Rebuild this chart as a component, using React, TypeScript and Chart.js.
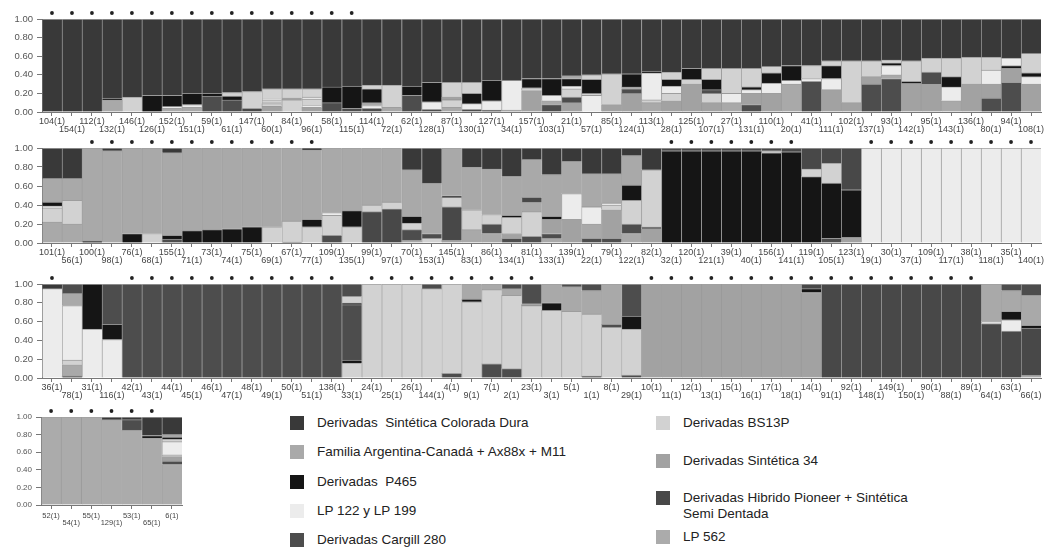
import React, { useEffect, useRef } from 'react';
import { Chart, registerables } from 'chart.js';
Chart.register(...registerables);

// Cluster keys -> legend names and grey tones
const clusterKeys = ['A', 'F', 'P', 'L', 'C', 'B', 'S', 'H', 'M'];
const clusterNames = [
  'Derivadas  Sintética Colorada Dura',
  'Familia Argentina-Canadá + Ax88x + M11',
  'Derivadas  P465',
  'LP 122 y LP 199',
  'Derivadas Cargill 280',
  'Derivadas BS13P',
  'Derivadas Sintética 34',
  'Derivadas Hibrido Pioneer + Sintética\nSemi Dentada',
  'LP 562',
];
const clusterColors = ['#393939', '#a9a9a9', '#151515', '#ececec', '#4d4d4d', '#d2d2d2', '#a2a2a2', '#484848', '#ababab'];

type Seg = [string, number];

// ---------------- Panel 1 ----------------
const panel1Labels = ['104(1)', '154(1)', '112(1)', '132(1)', '146(1)', '126(1)', '152(1)', '151(1)', '59(1)', '61(1)',
  '147(1)', '60(1)', '84(1)', '96(1)', '58(1)', '115(1)', '114(1)', '72(1)', '62(1)', '128(1)',
  '87(1)', '130(1)', '127(1)', '34(1)', '157(1)', '103(1)', '21(1)', '57(1)', '85(1)', '124(1)',
  '113(1)', '28(1)', '125(1)', '107(1)', '27(1)', '131(1)', '110(1)', '20(1)', '41(1)', '111(1)',
  '102(1)', '137(1)', '93(1)', '142(1)', '95(1)', '143(1)', '136(1)', '80(1)', '94(1)', '108(1)'];
const panel1Stars = [1, 1, 1, 1, 1, 1, 1, 1, 1, 1, 1, 1, 1, 1, 1, 1, 0, 0, 0, 0, 0, 0, 0, 0, 0, 0, 0, 0, 0, 0,
  0, 0, 0, 0, 0, 0, 0, 0, 0, 0, 0, 0, 0, 0, 0, 0, 0, 0, 0, 0];
const panel1Bars: Seg[][] = [
  [['A', 1]],
  [['A', 1]],
  [['A', 1]],
  [['F', 0.13], ['P', 0.02], ['A', 0.85]],
  [['B', 0.16], ['A', 0.84]],
  [['P', 0.18], ['A', 0.82]],
  [['F', 0.04], ['L', 0.02], ['P', 0.12], ['A', 0.82]],
  [['F', 0.05], ['L', 0.03], ['P', 0.12], ['A', 0.8]],
  [['C', 0.17], ['P', 0.03], ['A', 0.8]],
  [['C', 0.13], ['P', 0.04], ['B', 0.04], ['A', 0.79]],
  [['H', 0.04], ['B', 0.18], ['A', 0.78]],
  [['S', 0.06], ['B', 0.03], ['L', 0.01], ['B', 0.03], ['L', 0.01], ['B', 0.11], ['A', 0.75]],
  [['B', 0.13], ['F', 0.02], ['B', 0.1], ['A', 0.75]],
  [['S', 0.05], ['L', 0.02], ['B', 0.07], ['L', 0.02], ['B', 0.09], ['A', 0.75]],
  [['C', 0.1], ['P', 0.17], ['A', 0.73]],
  [['C', 0.04], ['P', 0.24], ['A', 0.72]],
  [['C', 0.04], ['L', 0.03], ['F', 0.03], ['P', 0.15], ['B', 0.04], ['A', 0.71]],
  [['F', 0.05], ['B', 0.24], ['A', 0.71]],
  [['C', 0.18], ['P', 0.1], ['A', 0.72]],
  [['C', 0.03], ['L', 0.08], ['P', 0.21], ['A', 0.68]],
  [['F', 0.05], ['B', 0.08], ['S', 0.03], ['B', 0.16], ['A', 0.68]],
  [['C', 0.03], ['L', 0.06], ['P', 0.11], ['B', 0.12], ['A', 0.68]],
  [['C', 0.02], ['L', 0.1], ['P', 0.22], ['A', 0.66]],
  [['F', 0.02], ['L', 0.32], ['A', 0.66]],
  [['S', 0.23], ['B', 0.03], ['P', 0.1], ['A', 0.64]],
  [['C', 0.08], ['F', 0.04], ['L', 0.06], ['P', 0.18], ['A', 0.64]],
  [['S', 0.1], ['C', 0.06], ['B', 0.09], ['L', 0.03], ['P', 0.08], ['F', 0.03], ['A', 0.61]],
  [['L', 0.18], ['B', 0.02], ['P', 0.15], ['B', 0.05], ['A', 0.6]],
  [['S', 0.08], ['B', 0.33], ['A', 0.59]],
  [['S', 0.2], ['C', 0.05], ['F', 0.02], ['P', 0.14], ['A', 0.59]],
  [['F', 0.1], ['B', 0.03], ['L', 0.29], ['P', 0.02], ['A', 0.56]],
  [['S', 0.12], ['B', 0.08], ['L', 0.08], ['P', 0.07], ['B', 0.08], ['A', 0.57]],
  [['S', 0.3], ['B', 0.05], ['P', 0.12], ['A', 0.53]],
  [['S', 0.1], ['B', 0.1], ['C', 0.04], ['P', 0.11], ['B', 0.12], ['A', 0.53]],
  [['F', 0.1], ['L', 0.1], ['B', 0.27], ['A', 0.53]],
  [['C', 0.08], ['S', 0.12], ['L', 0.04], ['P', 0.03], ['B', 0.2], ['A', 0.53]],
  [['S', 0.2], ['L', 0.11], ['P', 0.11], ['B', 0.07], ['A', 0.51]],
  [['F', 0.3], ['L', 0.04], ['P', 0.16], ['A', 0.5]],
  [['C', 0.33], ['L', 0.03], ['B', 0.14], ['A', 0.5]],
  [['S', 0.24], ['L', 0.12], ['P', 0.14], ['B', 0.05], ['A', 0.45]],
  [['S', 0.1], ['B', 0.45], ['A', 0.45]],
  [['C', 0.3], ['S', 0.08], ['B', 0.17], ['A', 0.45]],
  [['C', 0.36], ['F', 0.04], ['L', 0.1], ['P', 0.03], ['B', 0.03], ['A', 0.44]],
  [['S', 0.31], ['P', 0.02], ['B', 0.22], ['A', 0.45]],
  [['S', 0.3], ['C', 0.13], ['B', 0.15], ['A', 0.42]],
  [['F', 0.12], ['L', 0.15], ['P', 0.11], ['B', 0.2], ['A', 0.42]],
  [['S', 0.3], ['B', 0.29], ['A', 0.41]],
  [['C', 0.15], ['S', 0.15], ['L', 0.15], ['B', 0.14], ['A', 0.41]],
  [['C', 0.32], ['S', 0.15], ['P', 0.03], ['L', 0.08], ['A', 0.42]],
  [['S', 0.3], ['L', 0.08], ['P', 0.04], ['B', 0.21], ['A', 0.37]],
];

// ---------------- Panel 2 ----------------
const panel2Labels = ['101(1)', '56(1)', '100(1)', '98(1)', '76(1)', '68(1)', '155(1)', '71(1)', '73(1)', '74(1)',
  '75(1)', '69(1)', '67(1)', '77(1)', '109(1)', '135(1)', '99(1)', '97(1)', '70(1)', '153(1)',
  '145(1)', '83(1)', '86(1)', '134(1)', '81(1)', '133(1)', '139(1)', '22(1)', '79(1)', '122(1)',
  '82(1)', '32(1)', '120(1)', '121(1)', '39(1)', '40(1)', '156(1)', '141(1)', '119(1)', '105(1)',
  '123(1)', '19(1)', '30(1)', '37(1)', '109(1)', '117(1)', '38(1)', '118(1)', '35(1)', '140(1)'];
const panel2Stars = [0, 0, 1, 1, 1, 1, 1, 1, 1, 1, 1, 1, 1, 1, 0, 0, 0, 0, 0, 0, 0, 0, 0, 0, 0, 0, 0, 0, 0, 0,
  0, 1, 1, 1, 1, 1, 1, 1, 0, 0, 0, 1, 1, 1, 1, 1, 1, 1, 1, 1];
const panel2Bars: Seg[][] = [
  [['F', 0.22], ['B', 0.15], ['L', 0.02], ['P', 0.04], ['F', 0.25], ['A', 0.32]],
  [['F', 0.2], ['B', 0.25], ['F', 0.23], ['A', 0.32]],
  [['P', 0.02], ['F', 0.98]],
  [['F', 0.97], ['A', 0.03]],
  [['P', 0.1], ['F', 0.9]],
  [['B', 0.1], ['F', 0.9]],
  [['C', 0.04], ['P', 0.04], ['F', 0.87], ['A', 0.05]],
  [['P', 0.13], ['F', 0.87]],
  [['P', 0.14], ['F', 0.86]],
  [['P', 0.15], ['F', 0.85]],
  [['P', 0.17], ['F', 0.83]],
  [['B', 0.17], ['F', 0.83]],
  [['C', 0.01], ['B', 0.22], ['F', 0.77]],
  [['B', 0.17], ['P', 0.08], ['F', 0.73], ['A', 0.02]],
  [['C', 0.08], ['B', 0.21], ['L', 0.03], ['F', 0.68]],
  [['B', 0.17], ['P', 0.17], ['F', 0.66]],
  [['H', 0.33], ['B', 0.07], ['F', 0.6]],
  [['H', 0.36], ['B', 0.07], ['F', 0.57]],
  [['F', 0.03], ['C', 0.11], ['B', 0.07], ['P', 0.07], ['F', 0.49], ['A', 0.23]],
  [['B', 0.05], ['C', 0.05], ['F', 0.53], ['A', 0.37]],
  [['S', 0.03], ['H', 0.35], ['B', 0.1], ['C', 0.02], ['F', 0.5]],
  [['F', 0.14], ['B', 0.21], ['F', 0.45], ['A', 0.2]],
  [['F', 0.1], ['C', 0.1], ['B', 0.1], ['F', 0.48], ['A', 0.22]],
  [['C', 0.05], ['S', 0.05], ['B', 0.17], ['P', 0.02], ['F', 0.41], ['A', 0.3]],
  [['C', 0.07], ['B', 0.26], ['F', 0.1], ['H', 0.05], ['F', 0.4], ['A', 0.12]],
  [['F', 0.05], ['C', 0.05], ['S', 0.15], ['P', 0.03], ['F', 0.44], ['A', 0.28]],
  [['S', 0.25], ['L', 0.27], ['F', 0.34], ['A', 0.14]],
  [['C', 0.05], ['F', 0.15], ['L', 0.18], ['F', 0.35], ['A', 0.27]],
  [['C', 0.05], ['S', 0.3], ['B', 0.05], ['L', 0.02], ['F', 0.31], ['A', 0.27]],
  [['F', 0.1], ['C', 0.1], ['B', 0.25], ['P', 0.16], ['F', 0.31], ['A', 0.08]],
  [['S', 0.15], ['C', 0.02], ['B', 0.6], ['A', 0.23]],
  [['P', 0.97], ['H', 0.03]],
  [['P', 0.97], ['H', 0.03]],
  [['P', 0.97], ['H', 0.03]],
  [['P', 0.97], ['H', 0.03]],
  [['P', 0.97], ['H', 0.03]],
  [['P', 0.95], ['B', 0.02], ['H', 0.03]],
  [['P', 0.96], ['H', 0.04]],
  [['P', 0.7], ['B', 0.08], ['H', 0.22]],
  [['C', 0.05], ['P', 0.58], ['B', 0.21], ['H', 0.16]],
  [['S', 0.06], ['P', 0.5], ['H', 0.44]],
  [['L', 1]],
  [['L', 1]],
  [['L', 1]],
  [['L', 1]],
  [['L', 1]],
  [['L', 1]],
  [['L', 1]],
  [['L', 1]],
  [['L', 1]],
];

// ---------------- Panel 3 ----------------
const panel3Labels = ['36(1)', '78(1)', '31(1)', '116(1)', '42(1)', '43(1)', '44(1)', '45(1)', '46(1)', '47(1)',
  '48(1)', '49(1)', '50(1)', '51(1)', '138(1)', '33(1)', '24(1)', '25(1)', '26(1)', '144(1)',
  '4(1)', '9(1)', '7(1)', '2(1)', '23(1)', '3(1)', '5(1)', '1(1)', '8(1)', '29(1)',
  '10(1)', '11(1)', '12(1)', '13(1)', '15(1)', '16(1)', '17(1)', '18(1)', '14(1)', '91(1)',
  '92(1)', '148(1)', '149(1)', '150(1)', '90(1)', '88(1)', '89(1)', '64(1)', '63(1)', '66(1)'];
const panel3Stars = [1, 0, 0, 0, 1, 1, 1, 1, 1, 1, 1, 1, 1, 1, 1, 0, 1, 1, 1, 1, 1, 1, 1, 1, 1, 0, 0, 0, 0, 0,
  1, 1, 1, 1, 1, 1, 1, 1, 1, 1, 1, 1, 1, 1, 1, 1, 1, 0, 0, 0];
const panel3Bars: Seg[][] = [
  [['L', 0.95], ['A', 0.05]],
  [['C', 0.02], ['F', 0.12], ['B', 0.05], ['L', 0.58], ['F', 0.13], ['C', 0.1]],
  [['L', 0.52], ['P', 0.48]],
  [['L', 0.41], ['P', 0.16], ['C', 0.43]],
  [['C', 1]], [['C', 1]], [['C', 1]], [['C', 1]], [['C', 1]],
  [['C', 1]], [['C', 1]], [['C', 1]], [['C', 1]], [['C', 1]], [['C', 1]],
  [['B', 0.16], ['P', 0.03], ['C', 0.59], ['P', 0.02], ['B', 0.07], ['C', 0.13]],
  [['B', 1]],
  [['B', 1]],
  [['B', 1]],
  [['B', 0.95], ['C', 0.05]],
  [['C', 0.05], ['B', 0.95]],
  [['B', 0.81], ['P', 0.03], ['F', 0.16]],
  [['C', 0.15], ['B', 0.79], ['F', 0.06]],
  [['C', 0.1], ['B', 0.78], ['F', 0.07], ['C', 0.05]],
  [['B', 0.77], ['F', 0.02], ['C', 0.21]],
  [['B', 0.72], ['P', 0.08], ['F', 0.2]],
  [['B', 0.71], ['F', 0.26], ['C', 0.03]],
  [['C', 0.02], ['B', 0.66], ['F', 0.25], ['C', 0.07]],
  [['B', 0.54], ['C', 0.03], ['F', 0.43]],
  [['C', 0.03], ['B', 0.49], ['P', 0.14], ['C', 0.34]],
  [['S', 1]], [['S', 1]], [['S', 1]], [['S', 1]], [['S', 1]], [['S', 1]], [['S', 1]], [['S', 1]],
  [['S', 0.91], ['P', 0.04], ['H', 0.05]],
  [['H', 1]], [['H', 1]], [['H', 1]], [['H', 1]], [['H', 1]], [['H', 1]], [['H', 1]], [['H', 1]],
  [['H', 0.58], ['L', 0.02], ['F', 0.4]],
  [['H', 0.5], ['L', 0.12], ['P', 0.09], ['F', 0.22], ['C', 0.07]],
  [['F', 0.03], ['H', 0.5], ['P', 0.03], ['F', 0.32], ['C', 0.12]],
];

// ---------------- Panel 4 ----------------
const panel4Labels = ['52(1)', '54(1)', '55(1)', '129(1)', '53(1)', '65(1)', '6(1)'];
const panel4Stars = [1, 1, 1, 1, 1, 1, 0];
const panel4Bars: Seg[][] = [
  [['M', 1]],
  [['M', 1]],
  [['M', 1]],
  [['M', 0.97], ['A', 0.03]],
  [['M', 0.85], ['C', 0.12], ['A', 0.03]],
  [['M', 0.76], ['P', 0.03], ['A', 0.21]],
  [['M', 0.46], ['C', 0.04], ['S', 0.05], ['B', 0.02], ['L', 0.15], ['B', 0.03], ['P', 0.02], ['F', 0.03], ['A', 0.2]],
];

const yTicks = [0, 0.2, 0.4, 0.6, 0.8, 1.0];

const FONT = "'Liberation Sans', Arial, Helvetica, sans-serif";
const SEP = 'rgba(120,120,120,0.7)';

function colorOf(key: string) {
  return clusterColors[clusterKeys.indexOf(key)];
}

type PanelProps = {
  labels: string[];
  bars: Seg[][];
  stars: number[];
  left: number;
  top: number;
  width: number;
  height: number;
  padTop: number;
  padRight: number;
  yWidth: number;
  xHeight: number;
  yFont: number;
  xFont: number;
  xPad: number;
};

function Panel(p: PanelProps) {
  const ref = useRef<HTMLCanvasElement | null>(null);
  useEffect(() => {
    if (!ref.current) return;
    const maxLayers = Math.max(...p.bars.map((b) => b.length));
    const datasets: any[] = [];
    for (let L = 0; L < maxLayers; L++) {
      datasets.push({
        data: p.bars.map((b) => (b[L] ? b[L][1] : 0)),
        backgroundColor: p.bars.map((b) => (b[L] ? colorOf(b[L][0]) : 'rgba(0,0,0,0)')),
        borderColor: SEP,
        borderWidth: (ctx: any) => (p.bars[ctx.dataIndex] && p.bars[ctx.dataIndex][L] ? { top: 1, left: 1, right: 0, bottom: 0 } : 0),
        borderSkipped: false,
        stack: 's',
        barPercentage: 1,
        categoryPercentage: 1,
      });
    }
    const starPlugin = {
      id: 'stars',
      afterDatasetsDraw(chart: any) {
        const c = chart.ctx;
        const xs = chart.scales.x;
        const y = chart.chartArea.top - 6;
        c.save();
        c.fillStyle = '#222';
        p.stars.forEach((s, i) => {
          if (!s) return;
          const x = xs.getPixelForValue(i);
          c.beginPath();
          c.arc(x, y, 1.9, 0, Math.PI * 2);
          c.fill();
        });
        c.restore();
      },
    };
    const chart = new Chart(ref.current, {
      type: 'bar',
      data: { labels: p.labels, datasets },
      options: {
        animation: false,
        responsive: false,
        maintainAspectRatio: false,
        layout: { padding: { top: p.padTop, right: p.padRight, left: 0, bottom: 0 } },
        plugins: { legend: { display: false }, tooltip: { enabled: false } },
        scales: {
          x: {
            stacked: true,
            offset: true,
            grid: { offset: false, drawOnChartArea: false, tickLength: 4, color: '#777' },
            border: { color: '#777' },
            ticks: {
              autoSkip: false,
              maxRotation: 0,
              minRotation: 0,
              padding: p.xPad,
              color: '#444',
              font: { family: FONT, size: p.xFont, lineHeight: 0.9 },
              callback: (_v: any, i: number) => (i % 2 === 0 ? [p.labels[i], ''] : ['', p.labels[i]]),
            },
            afterFit: (s: any) => {
              s.height = p.xHeight;
            },
          },
          y: {
            stacked: true,
            min: 0,
            max: 1,
            grid: { drawOnChartArea: false, tickLength: 5, color: '#777' },
            border: { color: '#777' },
            afterBuildTicks: (s: any) => {
              s.ticks = yTicks.map((v) => ({ value: v }));
            },
            ticks: {
              padding: 4,
              color: '#555',
              font: { family: FONT, size: p.yFont },
              callback: (v: any) => Number(v).toFixed(2),
            },
            afterFit: (s: any) => {
              s.width = p.yWidth;
            },
          },
        },
      },
      plugins: [starPlugin],
    });
    return () => chart.destroy();
  }, []);
  return (
    <canvas
      ref={ref}
      width={p.width}
      height={p.height}
      style={{ position: 'absolute', left: p.left, top: p.top, width: p.width, height: p.height }}
    />
  );
}

function LegendItem({ idx, x, y }: { idx: number; x: number; y: number }) {
  const lines = clusterNames[idx].split('\n');
  return (
    <div style={{ position: 'absolute', left: x, top: y - 8 }}>
      <div
        style={{
          position: 'absolute',
          left: 0,
          top: 1,
          width: 14,
          height: 14,
          background: clusterColors[idx],
        }}
      />
      <div
        style={{
          position: 'absolute',
          left: 27,
          top: 0,
          whiteSpace: 'pre',
          fontFamily: FONT,
          fontSize: 13.5,
          lineHeight: '16px',
          color: '#222',
        }}
      >
        {lines.join('\n')}
      </div>
    </div>
  );
}

export default function App() {
  return (
    <div style={{ position: 'fixed', left: 0, top: 0, width: 1054, height: 548, background: '#fff', overflow: 'hidden' }}>
      <Panel labels={panel1Labels} bars={panel1Bars} stars={panel1Stars} left={0} top={0} width={1054} height={140}
        padTop={19} padRight={13} yWidth={42} xHeight={28} yFont={9.5} xFont={9} xPad={1} />
      <Panel labels={panel2Labels} bars={panel2Bars} stars={panel2Stars} left={0} top={135} width={1054} height={135}
        padTop={13} padRight={13} yWidth={42} xHeight={27} yFont={9.5} xFont={9} xPad={1} />
      <Panel labels={panel3Labels} bars={panel3Bars} stars={panel3Stars} left={0} top={270} width={1054} height={135}
        padTop={14} padRight={13} yWidth={42} xHeight={27} yFont={9.5} xFont={9} xPad={1} />
      <Panel labels={panel4Labels} bars={panel4Bars} stars={panel4Stars} left={0} top={405} width={200} height={143}
        padTop={12} padRight={18} yWidth={41} xHeight={43} yFont={8} xFont={7.5} xPad={4} />
      <LegendItem idx={0} x={290} y={423} />
      <LegendItem idx={1} x={290} y={452} />
      <LegendItem idx={2} x={290} y={482} />
      <LegendItem idx={3} x={290} y={511} />
      <LegendItem idx={4} x={290} y={540} />
      <LegendItem idx={5} x={656} y={423} />
      <LegendItem idx={6} x={656} y={461} />
      <LegendItem idx={7} x={656} y={498} />
      <LegendItem idx={8} x={656} y={537} />
    </div>
  );
}
